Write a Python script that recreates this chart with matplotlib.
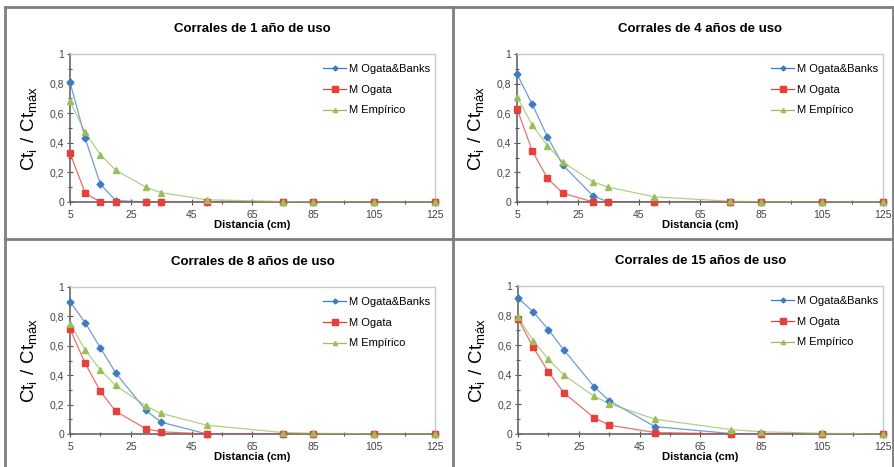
import matplotlib.pyplot as plt
import numpy as np
from matplotlib.ticker import FuncFormatter, MultipleLocator
from matplotlib.lines import Line2D

plt.rcParams['font.family'] = ['Liberation Sans', 'DejaVu Sans']

# distancias (cm)
dist = [5, 10, 15, 20, 30, 35, 50, 75, 85, 105, 125]

titulos = ['Corrales de 1 año de uso', 'Corrales de 4 años de uso',
           'Corrales de 8 años de uso', 'Corrales de 15 años de uso']
series = ['M Ogata&Banks', 'M Ogata', 'M Empírico']

# M Ogata&Banks
ob_1 = [0.81, 0.43, 0.12, 0.01, 0, 0, 0, 0, 0, 0, 0]
ob_4 = [0.865, 0.66, 0.44, 0.25, 0.04, 0, 0, 0, 0, 0, 0]
ob_8 = [0.90, 0.757, 0.586, 0.416, 0.16, 0.08, 0, 0, 0, 0, 0]
ob_15 = [0.92, 0.825, 0.705, 0.57, 0.32, 0.225, 0.05, 0.003, 0, 0, 0]

# M Ogata
og_1 = [0.33, 0.06, 0, 0, 0, 0, 0, 0, 0, 0, 0]
og_4 = [0.63, 0.345, 0.16, 0.06, 0, 0, 0, 0, 0, 0, 0]
og_8 = [0.715, 0.48, 0.29, 0.155, 0.035, 0.015, 0, 0, 0, 0, 0]
og_15 = [0.78, 0.585, 0.42, 0.28, 0.11, 0.06, 0.01, 0, 0, 0, 0]

# M Empirico
em_1 = [0.68, 0.47, 0.32, 0.215, 0.10, 0.063, 0.015, 0.003, 0.001, 0, 0]
em_4 = [0.71, 0.52, 0.38, 0.27, 0.135, 0.10, 0.035, 0.005, 0.002, 0, 0]
em_8 = [0.75, 0.57, 0.435, 0.33, 0.19, 0.14, 0.06, 0.01, 0.005, 0.001, 0]
em_15 = [0.79, 0.63, 0.505, 0.40, 0.255, 0.205, 0.10, 0.03, 0.015, 0.005, 0]

datos = [(ob_1, og_1, em_1), (ob_4, og_4, em_4),
         (ob_8, og_8, em_8), (ob_15, og_15, em_15)]

colores = ['#3d7cc4', '#e5403a', '#98c05a']
marcas = ['D', 's', '^']
tam = [3.5, 5, 4]

W, H = 895, 467
fig = plt.figure(figsize=(W / 100, H / 100), dpi=100)

# posiciones de los graficos en pixeles (x0, x1, y_top, y_bottom)
cajas = [(70, 435, 54, 202), (517, 883, 54, 202),
         (70, 435, 287, 434), (518, 883, 286, 434)]

coma = FuncFormatter(lambda v, p: ('%g' % v).replace('.', ','))

for i, ax_box in enumerate(cajas):
    x0, x1, yt, yb = ax_box
    ax = fig.add_axes([x0 / W, 1 - yb / H, (x1 - x0) / W, (yb - yt) / H])
    ob, og, em = datos[i]
    for k, ys in enumerate([ob, og, em]):
        ax.plot(dist, ys, color=colores[k], lw=0.9, alpha=0.75, zorder=3)
        ax.plot(dist, ys, ls='none', marker=marcas[k], ms=tam[k],
                color=colores[k], mec=colores[k], zorder=4, clip_on=False)
    ax.set_xlim(5, 125)
    ax.set_ylim(0, 1)
    ax.xaxis.set_major_locator(MultipleLocator(20, offset=5))
    ax.xaxis.set_minor_locator(MultipleLocator(10, offset=5))
    ax.yaxis.set_major_locator(MultipleLocator(0.2))
    ax.yaxis.set_minor_locator(MultipleLocator(0.1))
    ax.xaxis.set_major_formatter(coma)
    ax.yaxis.set_major_formatter(coma)
    ax.tick_params(which='both', direction='inout', length=4, width=0.8,
                   color='#555555', labelsize=7.5, labelcolor='#444444', pad=2)
    ax.tick_params(axis='x', pad=4)
    ax.tick_params(which='minor', length=3)
    for s in ['left', 'bottom']:
        ax.spines[s].set_color('#666666')
        ax.spines[s].set_linewidth(1.2)
    for s in ['top', 'right']:
        ax.spines[s].set_color('#c8c8c8')
        ax.spines[s].set_linewidth(1.0)
    ax.set_title(titulos[i], fontsize=9.5, fontweight='bold', pad=16)
    ax.set_xlabel('Distancia (cm)', fontsize=8, fontweight='bold', labelpad=0)
    ax.set_ylabel(r'$\mathregular{Ct_i\ /\ Ct_{máx}}$', fontsize=13.5, labelpad=8)
    handles = [Line2D([], [], color=colores[k], marker=marcas[k], ms=tam[k] - 1,
                      lw=0.9) for k in range(3)]
    ax.legend(handles, series, loc='upper right', bbox_to_anchor=(1.005, 0.975),
              frameon=False, fontsize=8, handlelength=2, handletextpad=0.3,
              labelspacing=0.95, borderaxespad=0.2)

# marcos de los paneles
grid = dict(color='#7f7f7f', lw=2)
fig.add_artist(Line2D([5 / W, 5 / W], [0, 1 - 7 / H], transform=fig.transFigure, **grid))
fig.add_artist(Line2D([5 / W, 893 / W], [1 - 7 / H, 1 - 7 / H], transform=fig.transFigure, **grid))
fig.add_artist(Line2D([893 / W, 893 / W], [0, 1 - 7 / H], transform=fig.transFigure, **grid))
fig.add_artist(Line2D([453 / W, 453 / W], [0, 1 - 7 / H], transform=fig.transFigure, **grid))
fig.add_artist(Line2D([5 / W, 893 / W], [1 - 239 / H, 1 - 239 / H], transform=fig.transFigure, **grid))

fig.savefig('out.png', dpi=100)
